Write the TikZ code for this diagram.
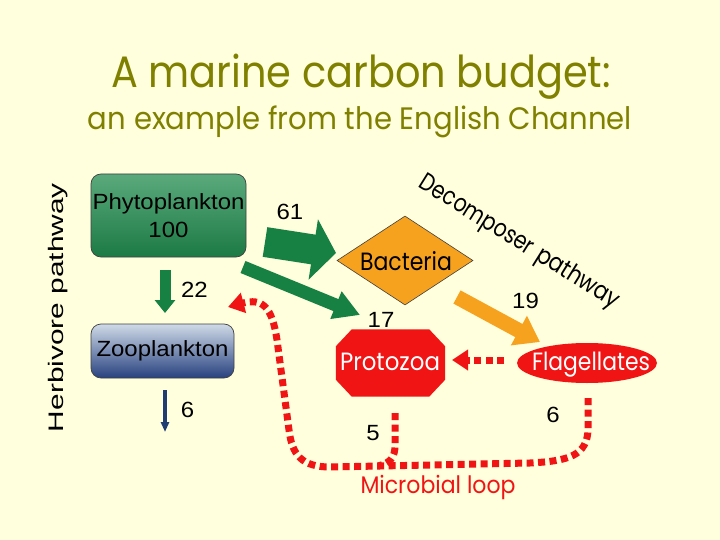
\documentclass[tikz,border=0pt]{standalone}
\usepackage{fontspec}
\setmainfont[FakeStretch=1.09]{Liberation Sans}
\newfontfamily\comic{Poppins}
\usepackage{graphicx}
\usetikzlibrary{arrows.meta,shapes.geometric}
\definecolor{bgc}{HTML}{FFFFDD}
\definecolor{ttlc}{HTML}{808000}
\definecolor{grn}{HTML}{178043}
\definecolor{navyc}{HTML}{1F3C73}
\definecolor{orng}{HTML}{F7A21F}
\definecolor{redc}{HTML}{F01414}
\definecolor{phyt}{HTML}{5AA97C}
\definecolor{phyb}{HTML}{1C7A44}
\definecolor{zoot}{HTML}{CFDAE7}
\definecolor{zoob}{HTML}{27417F}
\newcommand\fitto[2]{\resizebox{#1}{\height}{#2}}
\tikzset{
  boxstyle/.style={draw=black!75, line width=0.7pt, rounded corners=10pt, inner sep=0pt, align=center},
  numlbl/.style={anchor=base, font=\fontsize{22}{26}\selectfont, inner sep=0pt},
  comiclbl/.style={anchor=base, inner sep=0pt},
  decomplbl/.style={anchor=base, rotate=-32, inner sep=0pt, font=\comic\fontsize{25}{28}\selectfont},
  dotline/.style={redc, line width=7pt, dash pattern=on 7pt off 4.5pt},
  redtip/.style={-{Triangle[width=20pt,length=16pt]}}
}
\begin{document}
\begin{tikzpicture}[x=1pt,y=-1pt]
\fill[bgc] (0,0) rectangle (720,540);
\useasboundingbox (0,0) rectangle (720,540);

% titles
\node[comiclbl, text=ttlc, font=\comic\fontsize{44}{48}\selectfont] (title) at (361,88) {\fitto{500pt}{A marine carbon budget:}};
\node[comiclbl, text=ttlc, font=\comic\fontsize{31}{34}\selectfont] (subtitle) at (360,130) {\fitto{544pt}{an example from the English Channel}};

% herbivore label
\node[anchor=base, rotate=90, inner sep=0pt, font=\fontsize{21}{24}\selectfont] (herb) at (63,307.5) {\fitto{249pt}{Herbivore pathway}};

% boxes
\node[boxstyle, minimum width=155pt, minimum height=83pt, top color=phyt, bottom color=phyb,
      font=\fontsize{22}{28}\selectfont] (phyto) at (168.5,215.5) {Phytoplankton\\100};
\node[boxstyle, minimum width=143pt, minimum height=54pt, top color=zoot, bottom color=zoob,
      font=\fontsize{22}{26}\selectfont] (zoo) at (162.5,351) {Zooplankton};

% bacteria diamond
\node[diamond, draw=black!75, line width=0.6pt, fill=orng, minimum width=136pt, minimum height=89pt,
      shape aspect=1.53, inner sep=0pt] (bact) at (405,260.5) {\makebox[0pt]{}};
\node[comiclbl, font=\comic\fontsize{25}{28}\selectfont] (bactt) at (406,270) {\fitto{92pt}{Bacteria}};

% protozoa octagon
\node[minimum width=109pt, minimum height=67pt, inner sep=0pt] (proto) at (390.5,363) {};
\fill[redc] ([xshift=16pt]proto.north west) -- ([xshift=-16pt]proto.north east)
  -- ([yshift=-17pt]proto.north east) -- ([yshift=17pt]proto.south east)
  -- ([xshift=-16pt]proto.south east) -- ([xshift=16pt]proto.south west)
  -- ([yshift=17pt]proto.south west) -- ([yshift=-17pt]proto.north west) -- cycle;
\node[comiclbl, text=white, font=\comic\fontsize{25}{28}\selectfont] (protot) at (390,370) {\fitto{100pt}{Protozoa}};

% flagellates ellipse
\node[ellipse, fill=redc, minimum width=140pt, minimum height=40pt, inner sep=0pt] (flag) at (587,363) {\makebox[0pt]{}};
\node[comiclbl, text=white, font=\comic\fontsize{25}{28}\selectfont] (flagt) at (591,370) {\fitto{118pt}{Flagellates}};

% decomposer label
\node[decomplbl] (decomp1) at (473,221) {\fitto{130pt}{Decomposer}};
\node[decomplbl] (decomp2) at (574,284) {\fitto{94pt}{pathway}};

% arrows coordinates
\coordinate (a61s) at (265,242);
\coordinate (a61e) at (336,253);
\coordinate (a17s) at (243,267);
\coordinate (a17e) at (360,315);
\coordinate (a22s) at (165,270);
\coordinate (a22e) at (165,313);
\coordinate (a6s) at (165,390);
\coordinate (a6e) at (165,432);
\coordinate (a19s) at (457,297);
\coordinate (a19e) at (540,342);
\coordinate (fps) at (504,360);
\coordinate (fpe) at (452,360);
\coordinate (mls) at (588,398);
\coordinate (mle) at (228,307);
\coordinate (pls) at (395,413);

\draw[grn, line width=30pt, -{Triangle[width=60pt,length=23pt]}] (a61s) -- (a61e);
\draw[grn, line width=13pt, -{Triangle[width=28pt,length=26pt]}] (a17s) -- (a17e);
\draw[grn, line width=11pt, -{Triangle[width=20pt,length=13pt]}] (a22s) -- (a22e);
\draw[navyc, line width=4pt, -{Triangle[width=8pt,length=10pt]}] (a6s) -- (a6e);
\draw[orng, line width=15pt, -{Triangle[width=32pt,length=24pt]}] (a19s) -- (a19e);

% red dotted
\draw[dotline, redtip] (fps) -- (fpe);
\draw[dotline, redtip] (mls) -- (588,428) .. controls (588,456) and (568,461) .. (530,463)
  -- (330,467) .. controls (302,467) and (292,455) .. (289,430)
  -- (277,340) .. controls (272,306) and (262,298) .. (mle);
\draw[dotline] (pls) -- (395,445) .. controls (395,458) and (390,463) .. (378,466);

% numbers
\node[numlbl] (n61) at (290,219) {61};
\node[numlbl] (n22) at (194.5,297) {22};
\node[numlbl] (n6a) at (187.5,417) {6};
\node[numlbl] (n17) at (381,327) {17};
\node[numlbl] (n19) at (525.5,308) {19};
\node[numlbl] (n5) at (373,440) {5};
\node[numlbl] (n6b) at (553,422) {6};

% microbial loop label
\node[comiclbl, text=redc, font=\comic\fontsize{24}{28}\selectfont] (mloop) at (438,493) {\fitto{155pt}{Microbial loop}};
\end{tikzpicture}
\end{document}
